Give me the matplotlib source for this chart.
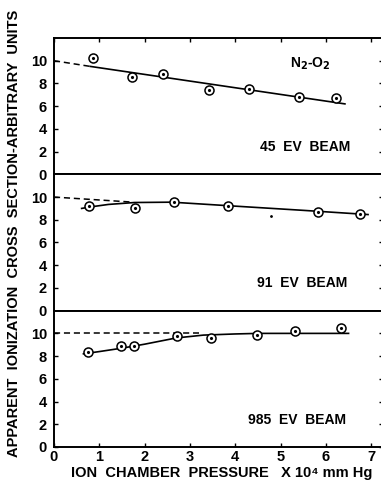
import matplotlib.pyplot as plt

plt.rcParams['font.family'] = ['Liberation Sans', 'DejaVu Sans']
plt.rcParams['font.weight'] = 'bold'

# measured points: pressure (x 10^4 mm Hg) vs apparent cross section
p45 = [0.86, 1.72, 2.41, 3.42, 4.30, 5.41, 6.22]
s45 = [10.2, 8.6, 8.85, 7.45, 7.55, 6.85, 6.75]
p91 = [0.78, 1.78, 2.64, 3.84, 5.83, 6.75]
s91 = [9.25, 9.07, 9.6, 9.25, 8.72, 8.55]
p985 = [0.75, 1.47, 1.77, 2.72, 3.46, 4.49, 5.32, 6.34]
s985 = [8.33, 8.86, 8.86, 9.74, 9.56, 9.9, 10.2, 10.5]

# hand-drawn fit curves and their dashed extrapolations to zero pressure
fit45_x = [0.8, 6.42]
fit45_y = [9.5, 6.2]
ext45_x = [0.0, 0.8]
ext45_y = [10.0, 9.5]

fit91_x = [0.61, 0.8, 1.2, 1.78, 2.6, 4.0, 5.5, 6.93]
fit91_y = [9.0, 9.13, 9.35, 9.52, 9.55, 9.2, 8.83, 8.46]
ext91_x = [0.0, 1.75]
ext91_y = [10.0, 9.55]

fit985_x = [0.65, 1.0, 1.5, 2.0, 2.7, 3.3, 4.0, 4.5, 6.5]
fit985_y = [8.2, 8.4, 8.7, 9.05, 9.6, 9.85, 9.95, 10.0, 10.0]
ext985_x = [0.0, 3.2]
ext985_y = [10.0, 10.0]

# stray speck in the middle panel
speck_x = [4.79]
speck_y = [8.3]

labels = ['45  EV  BEAM', '91  EV  BEAM', '985  EV  BEAM']
label_xy = [(5.54, 2.37), (5.47, 2.47), (5.36, 2.37)]

fig = plt.figure(figsize=(3.81, 4.84), dpi=100)
W, H = 381, 484
left = 54 / W
width = (383 - 54) / W
top = (H - 38) / H
bottom = (H - 447) / H
h = (top - bottom) / 3

panels = [
    (p45, s45, fit45_x, fit45_y, ext45_x, ext45_y),
    (p91, s91, fit91_x, fit91_y, ext91_x, ext91_y),
    (p985, s985, fit985_x, fit985_y, ext985_x, ext985_y),
]

axes = []
for i, (px, sy, fx, fy, ex, ey) in enumerate(panels):
    ax = fig.add_axes([left, top - (i + 1) * h, width, h])
    axes.append(ax)
    ax.set_xlim(0, 7.26)
    ax.set_ylim(0, 12)
    ax.plot(ex, ey, color='k', lw=1.1, ls=(0, (4, 2.5)))
    ax.plot(fx, fy, color='k', lw=1.2)
    ax.plot(px, sy, 'o', ms=6.5, mfc='white', mec='k', mew=1.1)
    ax.plot(px, sy, '.', ms=2.5, color='k')
    ax.set_yticks([0, 2, 4, 6, 8, 10])
    ax.tick_params(axis='y', which='both', direction='in', length=3,
                   width=1, right=True, labelsize=10.5, pad=5)
    ax.tick_params(axis='x', direction='in', length=3, width=1,
                   top=(i == 0), bottom=(i == 2), labelbottom=(i == 2),
                   labelsize=10.5, pad=2)
    ax.set_xticks(range(8))
    for s in ax.spines.values():
        s.set_linewidth(1.4)
    ax.spines['right'].set_visible(False)
    ax.text(*label_xy[i], labels[i], ha='center', va='center',
            fontsize=10, fontweight='bold')

axes[1].plot(speck_x, speck_y, '.', ms=2, color='k')
axes[0].text(5.65, 9.7, r'N$_\mathbf{2}$-O$_\mathbf{2}$', ha='center',
             va='center', fontsize=10, fontweight='bold')

fig.text(14 / W, 1 - 233 / H,
         'APPARENT  IONIZATION  CROSS  SECTION-ARBITRARY  UNITS',
         rotation=90, ha='center', va='center', fontsize=10.5,
         fontweight='bold')
fig.text(222 / W, 1 - 473 / H,
         'ION  CHAMBER  PRESSURE   X 10\u2074 mm Hg',
         ha='center', va='center', fontsize=10.5, fontweight='bold')

fig.savefig('out.png', dpi=100)
